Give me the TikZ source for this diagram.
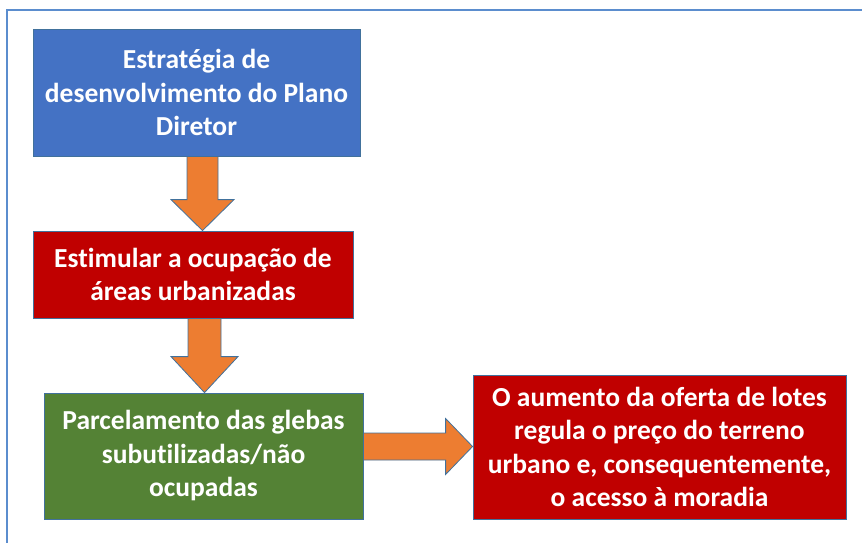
\documentclass[tikz,border=0pt]{standalone}
\usepackage{fontspec}
\setmainfont{Carlito}[Ligatures=NoCommon]
\usepackage{xcolor}
\usepackage{tikz}
\usetikzlibrary{calc}
\definecolor{boxblue}{RGB}{68,114,196}
\definecolor{boxred}{RGB}{192,0,0}
\definecolor{boxgreen}{RGB}{84,130,53}
\definecolor{arroworange}{RGB}{237,125,49}
\definecolor{edgeblue}{RGB}{65,113,156}
\definecolor{framecol}{RGB}{91,141,206}

\tikzset{
    stepbox/.style={draw=edgeblue, line width=0.8pt, text=white, align=center,
        font=\fontsize{27.5}{33.5}\selectfont\bfseries, inner sep=0pt},
    fatarrow/.style={draw=edgeblue, line width=0.8pt, fill=arroworange, line join=miter}
}

\begin{document}
\begin{tikzpicture}[x=1pt, y=-1pt]
    \useasboundingbox (0,0) rectangle (862,542);
    % Frame
    \draw[framecol, line width=1.6pt] (7,545) -- (7,10) -- (865,10);
    % Boxes
    \node[stepbox, fill=boxblue, minimum width=327pt, minimum height=127pt] (strat) at (196.5,92.5)
        {Estratégia de\\desenvolvimento do Plano\\Diretor};
    \node[stepbox, fill=boxred, minimum width=320pt, minimum height=87pt] (estim) at (193,274.5)
        {Estimular a ocupação de\\áreas urbanizadas};
    \node[stepbox, fill=boxgreen, minimum width=319pt, minimum height=126pt] (gleb) at (203.5,456)
        {Parcelamento das glebas\\subutilizadas/não\\ocupadas};
    \node[stepbox, fill=boxred, minimum width=373pt, minimum height=144pt] (lotes) at (659.5,447)
        {O aumento da oferta de lotes\\regula o preço do terreno\\urbano e, consequentemente,\\o acesso à moradia};
    % Block arrows
    \draw[fatarrow] let \p1=($(strat.south)+(6,0)$), \p2=(estim.north) in
        (\x1-15.5pt,\y1) -- (\x1-15.5pt,\y2+31pt) -- (\x1-31.5pt,\y2+31pt) -- (\x1,\y2)
        -- (\x1+31.5pt,\y2+31pt) -- (\x1+15.5pt,\y2+31pt) -- (\x1+15.5pt,\y1) -- cycle;
    \draw[fatarrow] let \p1=($(estim.south)+(11.5,0)$), \p2=(gleb.north) in
        (\x1-16.5pt,\y1) -- (\x1-16.5pt,\y2+36pt) -- (\x1-33.5pt,\y2+36pt) -- (\x1,\y2)
        -- (\x1+33.5pt,\y2+36pt) -- (\x1+16.5pt,\y2+36pt) -- (\x1+16.5pt,\y1) -- cycle;
    \draw[fatarrow] let \p1=($(gleb.east)+(0,-9.5)$), \p2=(lotes.west) in
        (\x1,\y1+13.5pt) -- (\x2-27pt,\y1+13.5pt) -- (\x2-27pt,\y1+28pt) -- (\x2,\y1)
        -- (\x2-27pt,\y1-28pt) -- (\x2-27pt,\y1-13.5pt) -- (\x1,\y1-13.5pt) -- cycle;
\end{tikzpicture}
\end{document}
